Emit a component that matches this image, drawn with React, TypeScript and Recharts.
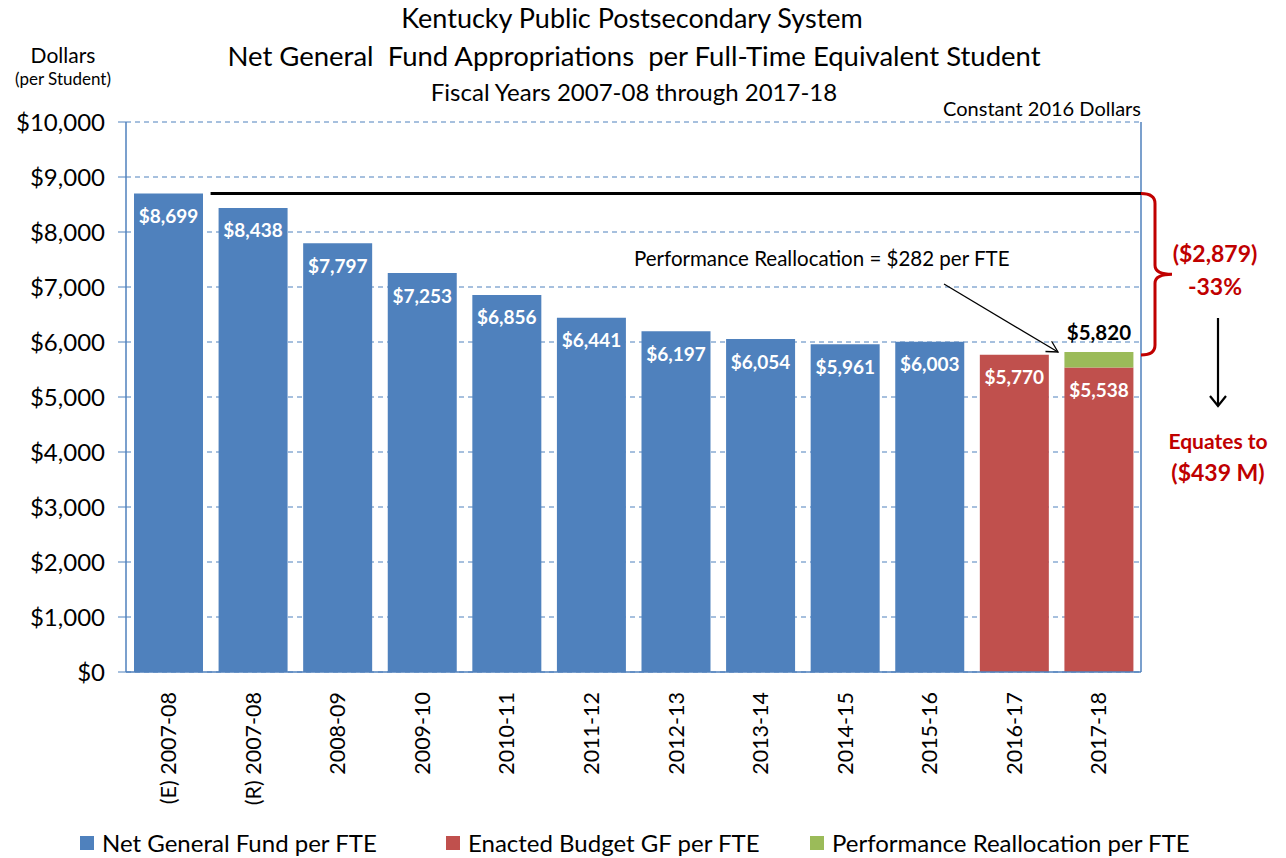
import React from "react";
import { BarChart, Bar, XAxis, YAxis, CartesianGrid, LabelList, ReferenceLine } from "recharts";

const categories = [
  "(E) 2007-08",
  "(R) 2007-08",
  "2008-09",
  "2009-10",
  "2010-11",
  "2011-12",
  "2012-13",
  "2013-14",
  "2014-15",
  "2015-16",
  "2016-17",
  "2017-18",
];
const netGeneralFund = [8699, 8438, 7797, 7253, 6856, 6441, 6197, 6054, 5961, 6003, null, null];
const enactedBudget = [null, null, null, null, null, null, null, null, null, null, 5770, 5538];
const performanceRealloc = [null, null, null, null, null, null, null, null, null, null, null, 282];
const totals = [null, null, null, null, null, null, null, null, null, null, null, 5820];
const yTicks = [0, 1000, 2000, 3000, 4000, 5000, 6000, 7000, 8000, 9000, 10000];

const BLUE = "#4F81BD";
const RED = "#C0504D";
const GREEN = "#9BBB59";
const DARK_RED = "#C00000";
const FONT = "Lato, 'Noto Sans', sans-serif";

const W = 1286;
const H = 858;
const TOP = 122;
const BOTTOM = 672;
const LEFT = 126;
const RIGHT = 1141;

const rows = categories.map((c, i) => ({
  year: c,
  net: netGeneralFund[i],
  enacted: enactedBudget[i],
  perf: performanceRealloc[i],
  total: totals[i],
}));

const money = (v: number | null | undefined) =>
  v == null ? "" : "$" + Number(v).toLocaleString("en-US");

const yPx = (v: number) => BOTTOM - (v / 10000) * (BOTTOM - TOP);

const XTick = (props: any) => {
  const { x, y, payload } = props;
  return (
    <text
      transform={`translate(${x},${y + 12}) rotate(-90)`}
      textAnchor="end"
      dy="0.36em"
      fontSize={21.5}
      fontFamily={FONT}
      fill="#000"
    >
      {payload.value}
    </text>
  );
};

const legendItems = [
  { label: "Net General Fund per FTE", color: BLUE, x: 80 },
  { label: "Enacted Budget GF per FTE", color: RED, x: 446 },
  { label: "Performance Reallocation per FTE", color: GREEN, x: 810 },
];

export default function App() {
  const lineY = yPx(8699);
  const braceBottom = yPx(5820) + 3;
  const braceMid = (lineY + braceBottom) / 2;
  return (
    <div style={{ position: "absolute", left: 0, top: 0, width: W, height: H, background: "#fff", fontFamily: FONT }}>
      <BarChart
        width={W}
        height={H}
        data={rows}
        margin={{ top: TOP, right: W - RIGHT, left: 0, bottom: 0 }}
      >
        <CartesianGrid
          vertical={false}
          stroke={BLUE}
          strokeDasharray="5 4"
        />
        <XAxis
          dataKey="year"
          height={H - BOTTOM}
          interval={0}
          tick={<XTick />}
          tickLine={false}
          axisLine={{ stroke: BLUE, strokeWidth: 1.5 }}
        />
        <YAxis
          width={LEFT}
          domain={[0, 10000]}
          ticks={yTicks}
          tickFormatter={(v: number) => money(v)}
          tick={{ fontSize: 24, fill: "#000", fontFamily: FONT }}
          tickSize={8}
          tickMargin={13}
          tickLine={{ stroke: BLUE }}
          axisLine={{ stroke: BLUE, strokeWidth: 1.5 }}
        />
        <ReferenceLine x="2017-18" position="end" stroke={BLUE} strokeWidth={1.5} />
        <Bar dataKey="net" stackId="a" fill={BLUE} barSize={69} isAnimationActive={false}>
          <LabelList
            dataKey="net"
            position="insideTop"
            offset={16}
            formatter={money}
            fill="#fff"
            fontSize={19}
            fontWeight="bold"
            fontFamily={FONT}
          />
        </Bar>
        <Bar dataKey="enacted" stackId="a" fill={RED} barSize={69} isAnimationActive={false}>
          <LabelList
            dataKey="enacted"
            position="insideTop"
            offset={16}
            formatter={money}
            fill="#fff"
            fontSize={19}
            fontWeight="bold"
            fontFamily={FONT}
          />
        </Bar>
        <Bar dataKey="perf" stackId="a" fill={GREEN} barSize={69} isAnimationActive={false}>
          <LabelList
            dataKey="total"
            position="top"
            offset={12}
            formatter={money}
            fill="#000"
            fontSize={20.5}
            fontWeight="bold"
            fontFamily={FONT}
          />
        </Bar>
        <ReferenceLine
          segment={[
            { x: "(E) 2007-08", y: 8699 },
            { x: "2017-18", y: 8699 },
          ]}
          position="end"
          stroke="#000"
          strokeWidth={3}
          ifOverflow="visible"
        />
      </BarChart>

      <svg
        width={W}
        height={H}
        style={{ position: "absolute", left: 0, top: 0, pointerEvents: "none" }}
        fontFamily={FONT}
      >
        <defs>
          <marker id="open" markerWidth="14" markerHeight="14" refX="12" refY="7" orient="auto" markerUnits="userSpaceOnUse">
            <path d="M1,1 L12,7 L1,13" fill="none" stroke="#000" strokeWidth={1.3} />
          </marker>
          <marker id="down" markerWidth="20" markerHeight="20" refX="10" refY="18" orient="0" markerUnits="userSpaceOnUse">
            <path d="M2,8 L10,18 L18,8" fill="none" stroke="#000" strokeWidth={2.2} />
          </marker>
        </defs>
        <text x={632} y={28} textAnchor="middle" fontSize={27}>Kentucky Public Postsecondary System</text>
        <text x={634} y={66} textAnchor="middle" fontSize={27.5}>Net General&#160; Fund Appropriations&#160; per Full-Time Equivalent Student</text>
        <text x={634} y={101} textAnchor="middle" fontSize={24}>Fiscal Years 2007-08 through 2017-18</text>
        <text x={RIGHT} y={116} textAnchor="end" fontSize={20}>Constant 2016 Dollars</text>
        <text x={63} y={63} textAnchor="middle" fontSize={21}>Dollars</text>
        <text x={63} y={85} textAnchor="middle" fontSize={17}>(per Student)</text>

        <text x={634} y={266} fontSize={20.5}>Performance Reallocation = $282 per FTE</text>
        <line x1={944} y1={284} x2={1058} y2={352} stroke="#000" strokeWidth={1.3} markerEnd="url(#open)" />

        <path
          d={`M${RIGHT},${lineY} Q1155,${lineY} 1155,${lineY + 10} L1155,${braceMid - 9} Q1155,${braceMid} 1172,${braceMid} Q1155,${braceMid} 1155,${braceMid + 9} L1155,${braceBottom - 10} Q1155,${braceBottom} ${RIGHT},${braceBottom}`}
          fill="none"
          stroke={DARK_RED}
          strokeWidth={3}
        />
        <text x={1215} y={262} textAnchor="middle" fontSize={23} fontWeight="bold" fill={DARK_RED}>($2,879)</text>
        <text x={1215} y={295} textAnchor="middle" fontSize={23} fontWeight="bold" fill={DARK_RED}>-33%</text>
        <line x1={1218} y1={318} x2={1218} y2={406} stroke="#000" strokeWidth={2.2} markerEnd="url(#down)" />
        <text x={1218} y={449} textAnchor="middle" fontSize={21} fontWeight="bold" fill={DARK_RED}>Equates to</text>
        <text x={1218} y={481} textAnchor="middle" fontSize={23} fontWeight="bold" fill={DARK_RED}>($439 M)</text>

        {legendItems.map((it) => (
          <g key={it.label}>
            <rect x={it.x} y={836} width={14} height={14} fill={it.color} />
            <text x={it.x + 22} y={852} fontSize={24}>{it.label}</text>
          </g>
        ))}
      </svg>
    </div>
  );
}
